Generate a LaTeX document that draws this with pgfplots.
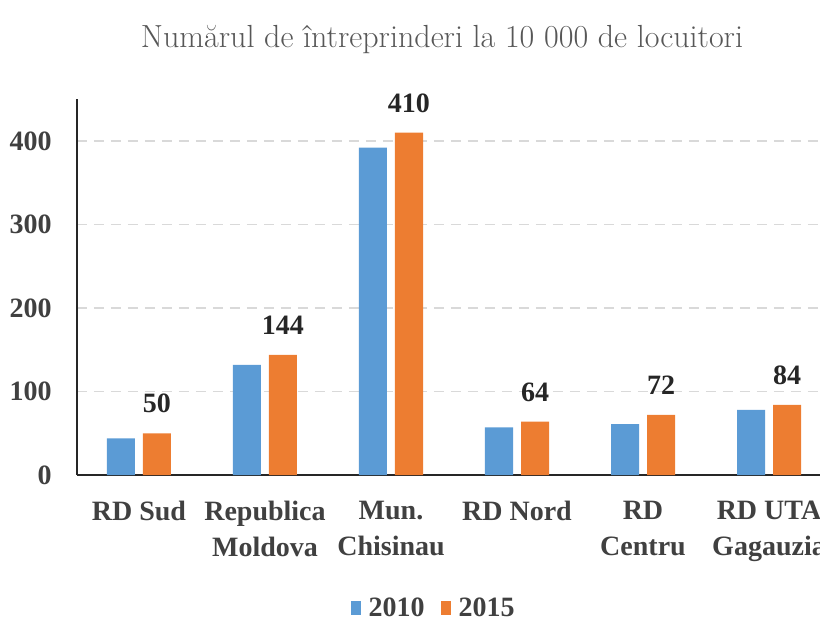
\documentclass[border=0pt]{standalone}
\usepackage{fontspec}
\usepackage{pgfplots}
\pgfplotsset{compat=1.18}
\newfontfamily\lab{Liberation Serif}
\definecolor{cblue}{HTML}{5B9BD5}
\definecolor{corange}{HTML}{ED7D31}
\definecolor{gridc}{HTML}{D9D9D9}
\definecolor{txt}{HTML}{404040}
\definecolor{dtxt}{HTML}{262626}
\begin{document}
\begin{tikzpicture}
\useasboundingbox (-139pt,-150pt) rectangle (681pt,475pt);
\clip (-139pt,-150pt) rectangle (681pt,475pt);
\begin{axis}[
  at={(0pt,0pt)}, anchor=origin,
  x=126pt, y=0.835pt,
  xmin=-0.494, xmax=5.405, ymin=0, ymax=450,
  axis x line*=bottom, axis y line*=left,
  axis line style={-, line width=1.8pt, black!85},
  every outer x axis line/.append style={-},
  every outer y axis line/.append style={-},
  ybar=8pt, bar width=28pt,
  ytick={0,100,200,300,400},
  xtick={0,...,5},
  xticklabels={RD Sud, Republica\\Moldova, Mun.\\Chisinau, RD Nord, RD\\Centru, RD UTA\\Gagauzia},
  major tick length=0pt,
  ymajorgrids, grid style={gridc, dash pattern=on 10pt off 7pt, line width=1.8pt},
  tick label style={font=\lab\fontsize{28}{36}\selectfont\bfseries, text=txt, inner sep=0pt},
  xticklabel style={align=center, anchor=north, yshift=-26pt},
  yticklabel style={anchor=east, xshift=-25pt},
  /pgf/number format/assume math mode=true,
  clip=false,
  legend style={at={(0.48,-0.353)}, anchor=center, draw=none, fill=none,
    font=\lab\fontsize{28}{34}\selectfont\bfseries, text=txt,
    /tikz/every odd column/.append style={column sep=6pt},
    /tikz/every even column/.append style={column sep=14pt}},
  legend columns=2,
  legend image code/.code={\fill[#1] (0pt,-7pt) rectangle (10pt,7pt);},
]
\addplot[fill=cblue, draw=none] coordinates {(0,44) (1,132) (2,392) (3,57) (4,61) (5,78)};
\addplot[fill=corange, draw=none,
  nodes near coords,
  nodes near coords style={font=\lab\fontsize{28}{34}\selectfont\bfseries, text=dtxt, inner sep=0pt, anchor=south, yshift=20pt}]
  coordinates {(0,50) (1,144) (2,410) (3,64) (4,72) (5,84)};
\legend{2010,2015}
\end{axis}
\node[font=\fontsize{32}{36}\selectfont, text=black!66] at (303pt,435pt) {Numărul de întreprinderi la 10 000 de locuitori};
\end{tikzpicture}
\end{document}
